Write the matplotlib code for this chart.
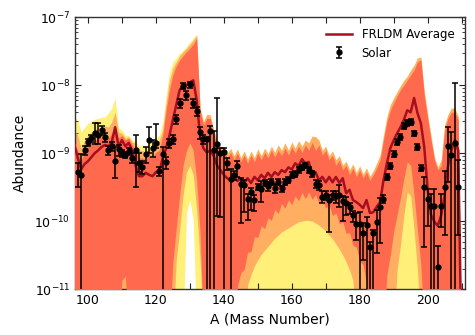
import numpy as np
import matplotlib
matplotlib.use("Agg")
import matplotlib.pyplot as plt
from matplotlib.ticker import FixedLocator, NullFormatter, LogFormatterSciNotation

# ---------------- data (log10 abundance) ----------------
mass = np.arange(96, 211)          # mass numbers of the model curves
F = -11.6                          # below the plotted range

avg_log = [
    -8.88, -9.07, -9.24, -9.16, -9.12, -9.06, -9.00, -8.96, -8.91, -8.88,
    -8.90, -8.84, -8.62, -8.90, -8.81, -8.90, -8.85, -8.96, -9.18, -9.34,
    -9.34, -9.29, -9.32, -9.34, -9.28, -9.29, -9.07, -8.93, -8.74, -8.51,
    -8.29, -8.07, -8.01, -8.00, -7.96, -7.93, -8.22, -8.74, -8.93, -8.99,
    -8.96, -9.04, -9.18, -9.25, -9.32, -9.37, -9.40, -9.35, -9.41, -9.37,
    -9.44, -9.37, -9.44, -9.35, -9.40, -9.32, -9.37, -9.29, -9.35, -9.28,
    -9.32, -9.25, -9.28, -9.21, -9.24, -9.15, -9.19, -9.09, -9.15, -9.13,
    -9.32, -9.28, -9.40, -9.35, -9.43, -9.35, -9.43, -9.35, -9.44, -9.37,
    -9.59, -9.54, -9.69, -9.72, -9.76, -9.81, -9.69, -9.88, -9.87, -9.79,
    -9.72, -9.40, -9.15, -8.93, -8.81, -8.71, -8.62, -8.51, -8.37, -8.40,
    -8.19, -8.41, -8.56, -8.91, -9.54, -9.91, -10.01, -10.07, -9.91, -9.62,
    -9.18, -8.96, -8.81, -8.96, -12.0]

# upper envelope of all model curves (light yellow members on top)
env_top_log = [
    -8.47, -8.51, -8.69, -8.62, -8.56, -8.53, -8.50, -8.49, -8.47, -8.47,
    -8.41, -8.34, -8.19, -8.63, -8.66, -8.74, -8.74, -8.81, -8.82, -8.90,
    -8.88, -8.91, -8.84, -8.84, -8.78, -8.74, -8.54, -8.16, -7.81, -7.66,
    -7.60, -7.53, -7.49, -7.43, -7.37, -7.31, -7.26, -8.34, -8.54, -8.43,
    -8.44, -8.66, -8.81, -8.91, -8.90, -9.01, -8.93, -9.04, -8.94, -9.07,
    -8.97, -9.09, -8.97, -9.07, -8.94, -9.04, -8.93, -9.01, -8.90, -8.99,
    -8.88, -8.96, -8.85, -8.96, -8.84, -8.93, -8.82, -8.90, -8.81, -8.85,
    -8.75, -8.76, -8.81, -8.96, -8.90, -9.04, -8.97, -9.10, -9.04, -9.18,
    -9.12, -9.25, -9.16, -9.29, -9.19, -9.31, -9.22, -9.34, -9.26, -9.15,
    -9.03, -8.74, -8.47, -8.29, -8.19, -8.10, -8.01, -7.93, -7.87, -7.78,
    -7.71, -7.60, -7.59, -8.10, -8.43, -8.76, -9.06, -9.21, -9.10, -8.59,
    -8.43, -8.34, -8.34, -8.46, -12.0]
env_bot_log = [F] * 33 + [-9.87, -9.69, -9.99] + [F] * 79

# orange members
org_top_log = [
    -8.66, -8.74, -8.93, -8.81, -8.74, -8.69, -8.66, -8.63, -8.62, -8.60,
    -8.62, -8.54, -8.40, -8.69, -8.71, -8.78, -8.76, -8.84, -8.85, -8.96,
    -8.96, -8.99, -8.90, -8.93, -8.85, -8.81, -8.66, -8.26, -7.93, -7.75,
    -7.66, -7.57, -7.51, -7.46, -7.40, -7.34, -7.26, -8.34, -8.54, -8.43,
    -8.44, -8.66, -8.81, -8.91, -8.90, -9.01, -8.93, -9.04, -8.94, -9.07,
    -8.97, -9.09, -8.97, -9.07, -8.94, -9.04, -8.93, -9.01, -8.90, -8.99,
    -8.88, -8.96, -8.85, -8.96, -8.84, -8.93, -8.82, -8.90, -8.81, -8.85,
    -8.75, -8.76, -8.81, -8.96, -8.90, -9.04, -8.97, -9.10, -9.04, -9.18,
    -9.12, -9.25, -9.16, -9.29, -9.19, -9.31, -9.22, -9.34, -9.26, -9.15,
    -9.03, -8.74, -8.47, -8.29, -8.19, -8.10, -8.01, -7.93, -7.87, -7.78,
    -7.71, -7.60, -7.59, -8.10, -8.43, -8.76, -9.06, -9.21, -9.10, -8.59,
    -8.43, -8.34, -8.34, -8.46, -12.0]
org_bot_log = ([F] * 30
               + [-10.57, -10.13, -9.62, -9.28, -9.18, -9.32, -9.84, -10.57]
               + [F] * 13
               + [-10.94, -10.79, -10.66, -10.57, -10.49, -10.43, -10.37, -10.31,
                  -10.25, -10.21, -10.16, -10.13, -10.10, -10.07, -10.04, -10.01,
                  -10.00, -9.99, -9.99, -10.00, -10.03, -10.06, -10.10, -10.15,
                  -10.21, -10.26, -10.34, -10.41, -10.50, -10.60, -10.72, -10.87]
               + [F] * 12
               + [-10.72, -10.35, -9.91, -9.57, -9.63, -10.13, -10.72]
               + [F] * 13)

# red members
red_top_log = [
    -8.85, -8.96, -9.10, -8.99, -8.90, -8.85, -8.81, -8.78, -8.76, -8.75,
    -8.78, -8.71, -8.59, -8.78, -8.74, -8.81, -8.78, -8.88, -8.96, -9.07,
    -9.07, -9.10, -9.03, -9.06, -8.99, -8.96, -8.74, -8.37, -8.07, -7.85,
    -7.72, -7.63, -7.57, -7.51, -7.46, -7.40, -7.31, -8.37, -8.59, -8.49,
    -8.49, -8.74, -8.88, -8.96, -8.96, -9.07, -8.99, -9.10, -9.00, -9.13,
    -9.03, -9.15, -9.03, -9.13, -9.00, -9.10, -8.99, -9.07, -8.96, -9.06,
    -8.96, -9.04, -8.93, -9.03, -8.91, -9.00, -8.90, -8.99, -8.88, -8.96,
    -8.84, -8.96, -8.88, -9.03, -8.96, -9.10, -9.03, -9.18, -9.10, -9.25,
    -9.18, -9.32, -9.22, -9.35, -9.25, -9.37, -9.28, -9.40, -9.32, -9.22,
    -9.10, -8.81, -8.54, -8.37, -8.26, -8.16, -8.07, -8.00, -7.93, -7.85,
    -7.78, -7.66, -7.63, -8.15, -8.49, -8.81, -9.10, -9.25, -9.18, -8.66,
    -8.49, -8.40, -8.40, -8.51, -12.0]
red_bot_log = ([F] * 14 + [-10.87, -10.81] + [F] * 13
               + [-10.60, -10.10, -9.62, -9.18, -8.96, -8.85, -8.96, -9.40, -10.16]
               + [F] * 10
               + [-10.96, -10.76, -10.71, -10.46, -10.45, -10.23, -10.24, -10.07,
                  -10.11, -9.95, -9.99, -9.83, -9.89, -9.74, -9.81, -9.69, -9.76,
                  -9.63, -9.70, -9.58, -9.67, -9.57, -9.68, -9.61, -9.74, -9.67,
                  -9.81, -9.76, -9.92, -9.88, -10.04, -10.01, -10.18, -10.17,
                  -10.36, -10.38, -10.59, -10.64, -10.92]
               + [F] * 5
               + [-10.79, -10.50, -10.16, -9.91, -9.66, -9.37, -9.13, -9.18,
                  -9.62, -10.13, -10.65]
               + [F] * 12)

# solar r-process abundances
solar_A = np.arange(97, 210)
solar_log = [
    -9.28, -9.32, -8.96, -8.84, -8.78, -8.71, -8.74, -8.66, -8.76, -8.96,
    -8.90, -9.11, -8.94, -9.00, -9.03, -8.97, -9.07, -8.96, -9.14, -9.21,
    -9.02, -8.81, -8.93, -8.85, -9.27, -9.01, -9.13, -8.85, -8.79, -8.50,
    -8.26, -8.01, -8.15, -7.99, -8.26, -8.38, -8.69, -8.79, -8.80, -8.68,
    -8.96, -8.86, -9.00, -8.99, -9.15, -9.38, -9.32, -9.19, -9.45, -9.47,
    -9.68, -9.57, -9.69, -9.50, -9.53, -9.44, -9.49, -9.42, -9.52, -9.42,
    -9.52, -9.42, -9.39, -9.32, -9.31, -9.24, -9.21, -9.18, -9.25, -9.30,
    -9.45, -9.47, -9.64, -9.62, -9.69, -9.62, -9.63, -9.61, -9.71, -9.73,
    -9.80, -9.91, -10.04, -10.04, -10.17, -10.06, -10.38, -10.17, -10.01, -9.80,
    -9.67, -9.35, -9.19, -9.01, -8.84, -8.76, -8.60, -8.55, -8.54, -8.71,
    -8.91, -9.22, -9.50, -9.67, -9.78, -9.78, -10.67, -9.78, -9.50, -8.90,
    -9.03, -8.85, -9.50]
solar_err_up = [
    0.35, 1.0, 0.15, 0.12, 0.12, 0.4, 0.5, 0.15, 0.15, 0.15,
    0.15, 0.6, 0.15, 0.12, 0.1, 0.12, 0.18, 0.66, 0.4, 0.25,
    0.3, 0.55, 0.31, 0.9, 0.15, 0.25, 0.2, 0.15, 0.15, 0.15,
    0.15, 0.1, 0.15, 0.1, 0.15, 0.15, 0.2, 0.15, 0.1, 0.2,
    0.9, 3.7, 0.2, 0.15, 0.2, 0.4, 0.15, 0.2, 0.2, 0.2,
    0.2, 0.15, 0.2, 0.1, 0.3, 0.1, 0.15, 0.1, 0.15, 0.1,
    0.1, 0.1, 0.1, 0.1, 0.1, 0.1, 0.1, 0.1, 0.1, 0.1,
    0.15, 0.15, 0.2, 0.15, 0.18, 0.15, 0.2, 0.36, 0.2, 0.2,
    0.15, 0.15, 0.45, 0.5, 0.39, 0.3, 0.2, 0.1, 0.5, 0.4,
    0.15, 0.1, 0.1, 0.1, 0.1, 0.1, 0.1, 0.1, 0.1, 0.1,
    0.1, 0.1, 0.4, 0.4, 0.5, 0.8, 1.0, 0.5, 0.7, 0.9,
    1.2, 6.6, 1.5]
solar_err_dn = [
    0.4, 1.0, 0.15, 0.12, 0.12, 0.3, 0.25, 0.15, 0.15, 0.15,
    0.15, 0.45, 0.2, 0.12, 0.1, 0.12, 0.15, 0.71, 0.26, 0.2,
    0.25, 0.36, 0.26, 0.15, 0.15, 1.0, 0.2, 0.15, 0.15, 0.15,
    0.15, 0.1, 0.15, 0.1, 0.15, 0.15, 0.2, 0.15, 1.0, 1.0,
    1.0, 0.915, 0.885, 1.0, 0.2, 1.0, 0.15, 0.3, 0.74, 0.6,
    0.5, 0.45, 0.3, 0.1, 0.35, 0.1, 0.15, 0.1, 0.15, 0.1,
    0.1, 0.1, 0.1, 0.1, 0.1, 0.1, 0.1, 0.1, 0.1, 0.1,
    0.15, 0.15, 0.2, 0.15, 0.66, 0.15, 0.2, 0.34, 0.49, 0.35,
    0.2, 0.2, 0.42, 1.0, 0.6, 1.0, 1.0, 1.0, 0.65, 0.7,
    0.15, 0.1, 0.1, 0.1, 0.1, 0.1, 0.1, 0.1, 0.1, 0.1,
    0.1, 0.1, 0.87, 0.6, 1.0, 1.0, 1.0, 0.5, 0.8, 0.7,
    1.0, 1.0, 0.8]

x_ticks = [100, 120, 140, 160, 180, 200]
x_minor = [110, 130, 150, 170, 190, 210]
y_ticks = [1e-11, 1e-10, 1e-9, 1e-8, 1e-7]
y_minor = [k * d for d in (1e-11, 1e-10, 1e-9, 1e-8) for k in range(2, 10)]

# ---------------- style ----------------
c_yellow = "#FFF07A"
c_orange = "#FFAE62"
c_red = "#FF6A4F"
c_avg = "#A50F1E"

plt.rcParams["font.family"] = ["DejaVu Sans"]
fig = plt.figure(figsize=(4.75, 3.35), dpi=100)
ax = fig.add_axes([0.158, 0.137, 0.821, 0.812])
ax.set_yscale("log")

def p(v):
    return 10.0 ** np.asarray(v, dtype=float)

ax.fill_between(mass, p(env_bot_log), p(env_top_log), color=c_yellow, lw=0, zorder=1)
ax.fill_between(mass, p(org_bot_log), p(org_top_log), color=c_orange, lw=0, zorder=2)
ax.fill_between(mass, p(red_bot_log), p(red_top_log), color=c_red, lw=0, zorder=3)

ax.plot(mass, p(avg_log), color=c_avg, lw=1.8, zorder=4, label="FRLDM Average")

Ys = p(solar_log)
lo = Ys * np.asarray(solar_err_dn)
hi = Ys * np.asarray(solar_err_up)
ax.errorbar(solar_A, Ys, yerr=[lo, hi], fmt="o", color="black", ms=3.5,
            elinewidth=1.1, capsize=2, capthick=1.1, zorder=5, label="Solar")

ax.set_xlim(96.2, 211)
ax.set_ylim(1e-11, 1e-7)
ax.xaxis.set_major_locator(FixedLocator(x_ticks))
ax.xaxis.set_minor_locator(FixedLocator(x_minor))
ax.yaxis.set_major_locator(FixedLocator(y_ticks))
ax.yaxis.set_major_formatter(LogFormatterSciNotation())
ax.yaxis.set_minor_locator(FixedLocator(y_minor))
ax.yaxis.set_minor_formatter(NullFormatter())
ax.tick_params(which="both", direction="in", top=True, right=True,
               colors="#222222", labelsize=9, labelcolor="black")
ax.tick_params(which="major", length=4, width=0.8)
ax.tick_params(which="minor", length=2.5, width=0.6)
ax.tick_params(axis="x", which="minor", length=4, width=0.8)
for s in ax.spines.values():
    s.set_color("#333333")
    s.set_linewidth(1.0)

ax.set_xlabel("A (Mass Number)", fontsize=10, labelpad=4)
ax.set_ylabel("Abundance", fontsize=10, labelpad=5)

ax.legend(loc="upper right", frameon=False, fontsize=8.5, handlelength=2.2)

fig.savefig("out.png", dpi=100)
